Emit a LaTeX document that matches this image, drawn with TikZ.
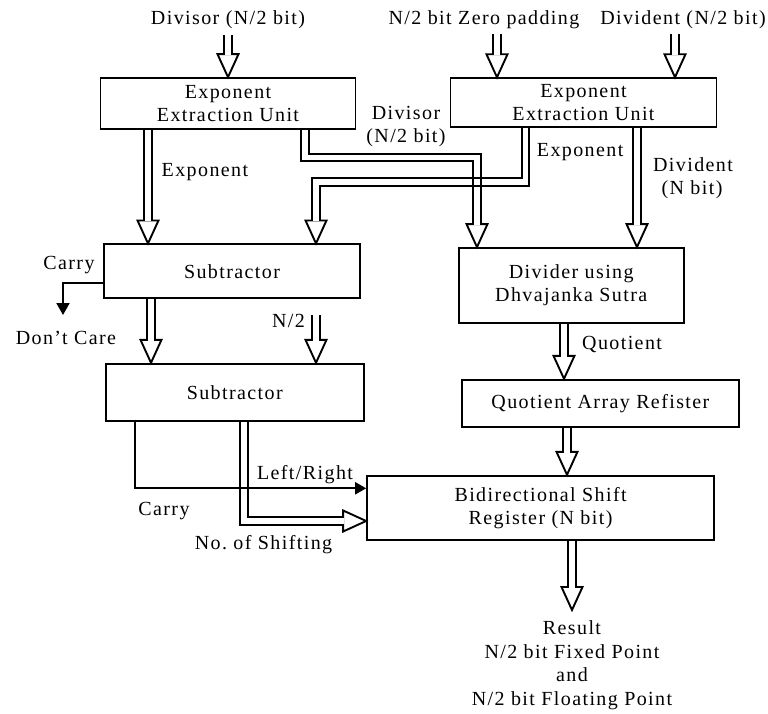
\documentclass[tikz,border=0pt]{standalone}
\usepackage{fontspec}
\setmainfont{Liberation Serif}[LetterSpace=7]
\usetikzlibrary{arrows.meta,calc}
\frenchspacing

\tikzset{
  box/.style={draw, line width=1.9pt, rectangle, align=center, inner sep=0pt},
  lbl/.style={inner sep=0pt},
  bus/.style={draw, line width=1.9pt, double=white, double distance=5.8pt, line join=miter},
  wire/.style={draw, line width=2pt},
  hd/.pic={\draw[line width=1.9pt, fill=white, line join=miter]
    (0,0) -- (-10.5,-23) -- (10.5,-23) -- cycle;},
}
% vertical bus from a source point to a target point, hollow head at target
\newcommand\vbus[2]{%
  \coordinate (vbTip) at (#2);
  \pic at (vbTip) {hd};
  \draw[bus] (#1) -- ($(vbTip)+(0,-22)$);}

\begin{document}
\begin{tikzpicture}[x=1pt, y=-1pt,
  every node/.style={font=\fontsize{20}{23.5}\selectfont}]
\useasboundingbox (0,0) rectangle (768,714);

% blocks
\node[box, minimum width=255pt, minimum height=51pt] (eeu1) at (228,103.6) {Exponent\\Extraction Unit};
\node[box, minimum width=266pt, minimum height=48.5pt] (eeu2) at (583.5,102.5) {Exponent\\Extraction Unit};
\node[box, minimum width=256.5pt, minimum height=54pt] (sub1) at (232,271.4) {Subtractor};
\node[box, minimum width=258.5pt, minimum height=57.5pt] (sub2) at (234.8,392.5) {Subtractor};
\node[box, minimum width=225pt, minimum height=74.5pt] (div) at (571.2,285.3) {Divider using\\Dhvajanka Sutra};
\node[box, minimum width=276.5pt, minimum height=47.5pt] (qar) at (600.4,403.5) {Quotient Array Refister};
\node[box, minimum width=347pt, minimum height=64.5pt] (bsr) at (540.6,508) {Bidirectional Shift\\Register (N bit)};

% input labels
\node[lbl, anchor=base] (tDivisor) at (228,25) {Divisor (N/2 bit)};
\node[lbl, anchor=base] (tZero) at (484,25) {N/2 bit Zero padding};
\node[lbl, anchor=base] (tDivident) at (683,25) {Divident (N/2 bit)};

% inputs
\coordinate (inDivisor) at (228,35);
\coordinate (inZero) at (497,34);
\coordinate (inDivident) at (675,34);
\coordinate (inHalf) at (316,315);
\vbus{inDivisor}{228,0 |- eeu1.north}
\vbus{inZero}{497,0 |- eeu2.north}
\vbus{inDivident}{675,0 |- eeu2.north}

% exponent of divisor to first subtractor
\vbus{148,0 |- eeu1.south}{148,0 |- sub1.north}
% divident (N bit) to divider
\vbus{637,0 |- eeu2.south}{637,0 |- div.north}

% divisor to divider
\coordinate (dvTip) at (477,0 |- div.north);
\pic at (dvTip) {hd};
\draw[bus] (305,0 |- eeu1.south) -- (305,157.5) -- (477,157.5) -- ($(dvTip)+(0,-22)$);

% exponent of divident to first subtractor
\coordinate (exTip) at (316,0 |- sub1.north);
\pic at (exTip) {hd};
\draw[bus] (525.5,0 |- eeu2.south) -- (525.5,182) -- (316,182) -- ($(exTip)+(0,-22)$);
% borders of the divisor bus where the two buses cross
\draw[line width=1.9pt] (473.15,178.5) -- (473.15,185.5) (480.85,178.5) -- (480.85,185.5);

% subtractor chain
\vbus{151,0 |- sub1.south}{151,0 |- sub2.north}
\vbus{inHalf}{316,0 |- sub2.north}

% quotient path
\vbus{564,0 |- div.south}{564,0 |- qar.north}
\vbus{567,0 |- qar.south}{567,0 |- bsr.north}

% result
\coordinate (resTip) at (572,610);
\vbus{572,0 |- bsr.south}{resTip}

% number of shifting
\coordinate (shTip) at (bsr.west |- 0,521);
\pic[rotate=90] at (shTip) {hd};
\draw[bus] (244,0 |- sub2.south) -- (244,521) -- ($(shTip)+(-22,0)$);

% carry lines
\draw[wire, -{Triangle[length=12pt,width=13pt]}] (sub1.west |- 0,283.3) -| (63,315);
\draw[wire, -{Triangle[length=11pt,width=12pt]}] (135,0 |- sub2.south) |- (bsr.west |- 0,488.3);

% labels
\node[lbl, anchor=base] at (406,120) {Divisor};
\node[lbl, anchor=base] at (406,143) {(N/2 bit)};
\node[lbl, anchor=base west] at (161.5,177) {Exponent};
\node[lbl, anchor=base west] at (536.7,156.7) {Exponent};
\node[lbl, anchor=base] at (693,171.7) {Divident};
\node[lbl, anchor=base] at (692,195) {(N bit)};
\node[lbl, anchor=base] at (69,269.3) {Carry};
\node[lbl, anchor=base] at (66,344.3) {Don't Care};
\node[lbl, anchor=base] at (288.5,327.3) {N/2};
\node[lbl, anchor=base] at (305,479.3) {Left/Right};
\node[lbl, anchor=base] at (164,515) {Carry};
\node[lbl, anchor=base] at (263.5,549.3) {No. of Shifting};
\node[lbl, anchor=base west] at (582,349) {Quotient};
\node[lbl, anchor=base] at (572,634.3) {Result};
\node[lbl, anchor=base] at (572,658.3) {N/2 bit Fixed Point};
\node[lbl, anchor=base] at (572,681.7) {and};
\node[lbl, anchor=base] at (572,705.7) {N/2 bit Floating Point};
\end{tikzpicture}
\end{document}
